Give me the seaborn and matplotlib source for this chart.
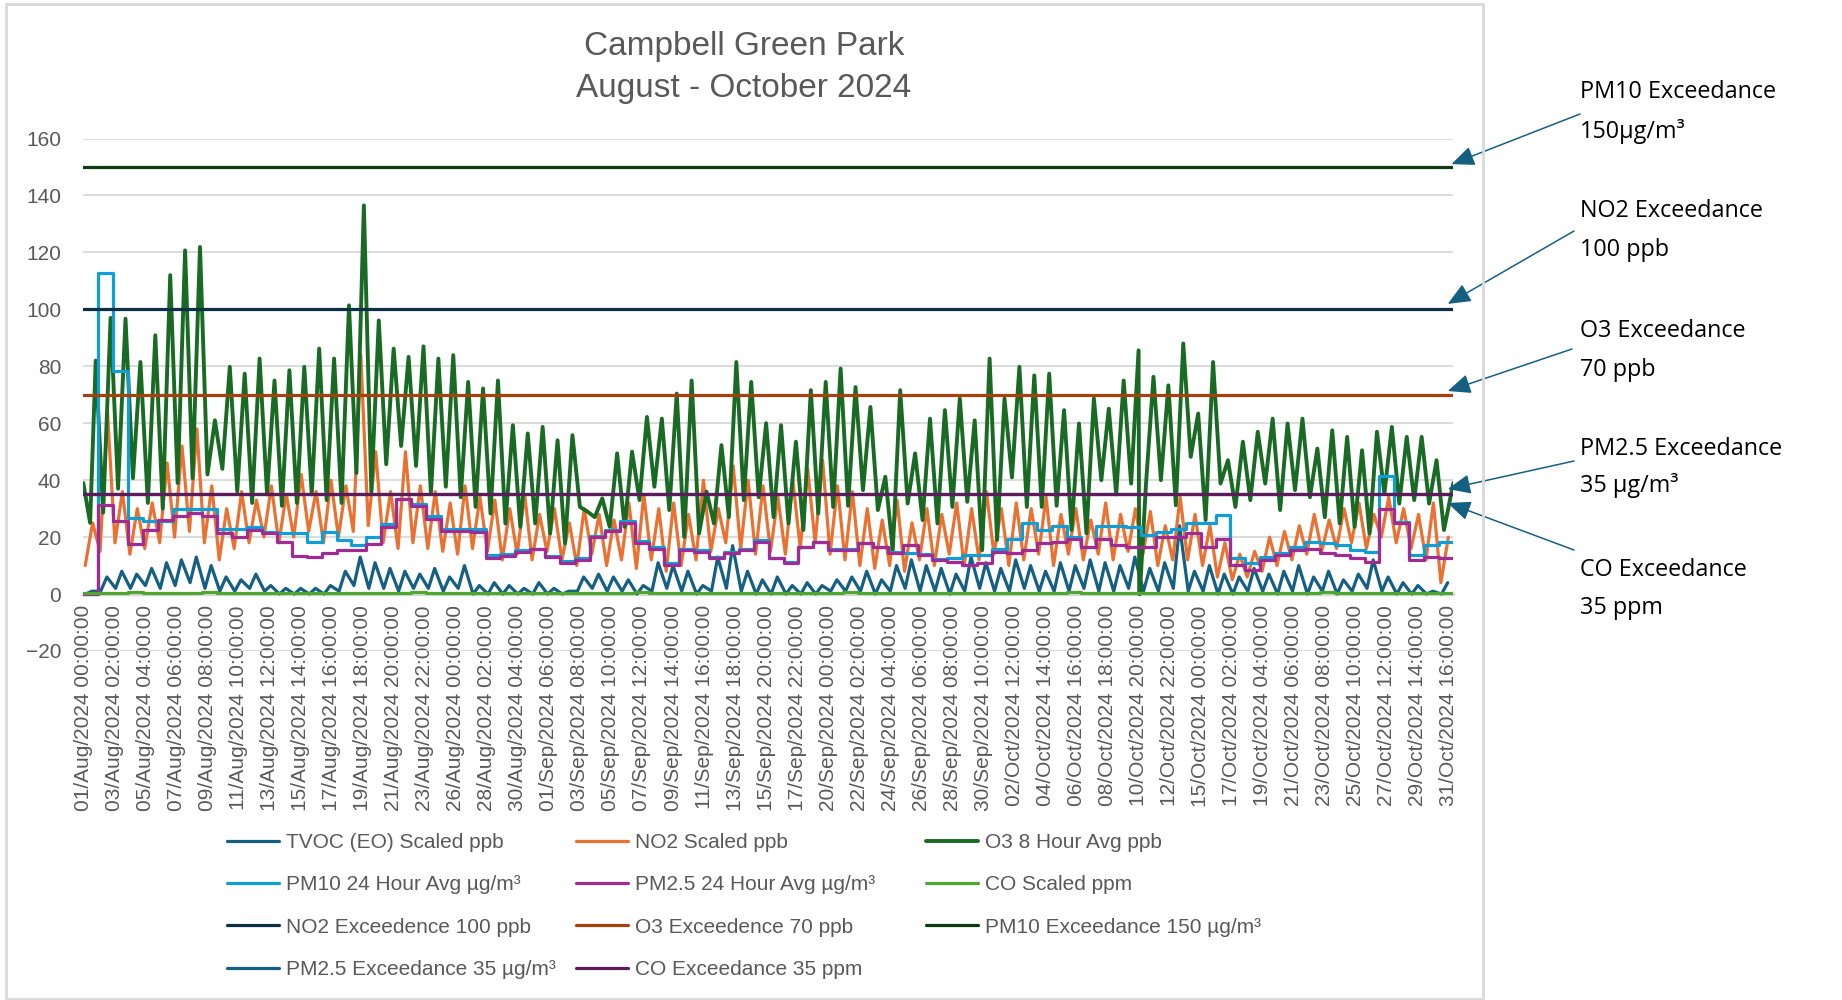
import matplotlib.pyplot as plt
import matplotlib.patches as patches
import pandas as pd
import seaborn as sns

# ---- values (hourly data, 01/Aug - 31/Oct 2024) ----
start = pd.Timestamp("2024-08-01 00:00:00")
n_days = 92
last_hour = n_days * 24 - 1

# O3 8 hour avg: the daily peak (evening) and the trough that follows it
o3_peaks = [
    82, 97, 96.7, 81.5, 90.9, 112, 120.7, 121.9, 61, 79.8,
    77.4, 82.7, 75, 78.6, 79.8, 86.2, 82.7, 101.4, 136.5, 96.1,
    86.2, 83.3, 87, 82.7, 83.9, 74.5, 72.2, 75, 59.3, 56.4,
    58.7, 54, 55.8, 29, 33.6, 49.4, 50, 62.2, 61.6, 70.4,
    75, 36, 52.3, 81.5, 74.5, 60, 59.3, 53.5, 71.6, 74.5,
    79.2, 72.7, 65.7, 41.2, 71.6, 49.4, 61.6, 64.6, 68.7, 61,
    82.7, 68.7, 79.8, 76.8, 77.4, 64.6, 59.9, 68.7, 65.1, 75,
    85.6, 76.3, 73.3, 88, 63.4, 81.5, 47, 53.5, 57, 61.6,
    59.9, 61.6, 51.1, 57.5, 55.2, 50.5, 57, 58.7, 55.2, 55.2,
    47,
]
o3_troughs = [
    28.6, 37, 40.7, 32, 30, 39, 40.7, 42, 44, 36,
    32, 35, 31, 32, 35, 33, 32, 42.5, 36, 45.6,
    52, 45, 35.3, 37.7, 34, 30.6, 28.3, 24.8, 23.6, 24.8,
    21.3, 17.8, 30.6, 27, 23.6, 23.6, 33, 37.7, 29.5, 20.1,
    21.3, 24.8, 27, 33, 34, 27, 24.8, 22.5, 28.3, 30.6,
    31, 36.5, 29.5, 15.4, 31.8, 26, 24.8, 30.6, 32.4, 15.4,
    19, 41, 30.6, 30.6, 31, 22.5, 21.3, 40, 35, 38.8,
    38.8, 40, 31.2, 48.2, 26, 38.8, 30.6, 33, 38.8, 29.5,
    36.5, 34, 27, 24.8, 23.6, 21.3, 35.3, 31.8, 33, 31.8,
    22.5,
]
o3_first = [39, 25]
o3_last = 39
o3_dropout_day = 70  # reading falls to 0 right after the 10/Oct peak

# NO2 scaled: daily high and low
no2_high = [
    25, 64, 36, 30, 32, 46, 52, 58, 38, 30,
    36, 33, 38, 35, 42, 36, 40, 38, 84, 50,
    36, 50, 38, 36, 32, 38, 34, 33, 30, 35,
    28, 30, 25, 30, 28, 26, 32, 35, 30, 32,
    28, 40, 30, 45, 40, 38, 34, 40, 44, 47,
    38, 36, 30, 26, 33, 25, 30, 28, 32, 30,
    36, 30, 32, 30, 34, 28, 30, 26, 32, 28,
    30, 29, 24, 34, 28, 24, 18, 14, 15, 20,
    22, 24, 28, 26, 30, 32, 28, 34, 30, 28,
    32, 20,
]
no2_low = [
    10, 15, 18, 14, 16, 18, 20, 22, 18, 12,
    16, 18, 20, 18, 20, 22, 18, 20, 22, 24,
    18, 16, 18, 16, 15, 14, 16, 15, 12, 14,
    12, 15, 12, 10, 14, 10, 12, 9, 12, 8,
    10, 12, 15, 18, 16, 14, 15, 14, 16, 18,
    14, 12, 10, 9, 10, 8, 12, 10, 14, 10,
    12, 14, 10, 12, 14, 10, 14, 12, 14, 12,
    15, 14, 10, 12, 12, 10, 6, 5, 6, 8,
    10, 12, 14, 15, 16, 18, 16, 20, 18, 16,
    12, 4,
]

# TVOC (EO) scaled: daily high and low
tvoc_high = [
    1, 6, 8, 7, 9, 11, 12, 13, 10, 6,
    5, 7, 3, 2, 2, 2, 3, 8, 13, 11,
    9, 8, 7, 9, 6, 10, 3, 4, 3, 2,
    4, 2, 1, 6, 7, 6, 5, 3, 11, 10,
    8, 3, 13, 17, 8, 5, 6, 3, 4, 3,
    5, 6, 8, 5, 10, 12, 10, 9, 7, 13,
    11, 9, 12, 10, 8, 11, 10, 12, 11, 10,
    13, 9, 11, 24, 8, 10, 7, 6, 9, 7,
    8, 10, 6, 8, 5, 7, 12, 6, 4, 3,
    1, 4,
]
tvoc_low = [
    0, 1, 2, 2, 3, 2, 3, 4, 2, 1,
    1, 2, 1, 0, 0, 0, 0, 1, 3, 2,
    2, 1, 2, 2, 1, 2, 0, 0, 0, 0,
    0, 0, 0, 1, 2, 1, 1, 0, 1, 2,
    1, 0, 1, 2, 1, 0, 0, 0, 0, 0,
    1, 1, 1, 0, 1, 2, 1, 1, 0, 1,
    2, 1, 1, 2, 1, 1, 1, 2, 1, 1,
    2, 1, 1, 2, 1, 1, 0, 0, 1, 1,
    0, 1, 0, 1, 0, 1, 2, 1, 0, 0,
    0, 0,
]

# 24 hour averages, one value per day
pm10_daily = [
    0, 112.6, 78.5, 26.8, 25.6, 25.6, 29.8, 30, 29.8, 22.8,
    22.8, 23.5, 21.9, 21.3, 21.3, 18.4, 21.9, 19, 17.2, 20.1,
    24.6, 33.4, 31.6, 27.4, 22.7, 22.7, 22.7, 13.7, 14, 15.4,
    16, 13.5, 11.5, 12.5, 20.5, 22.5, 25.5, 18.5, 16.5, 10.8,
    16, 15.4, 13, 14.8, 16, 19, 12.5, 11.3, 16.6, 18.4,
    15.8, 15.8, 17.8, 16.6, 14.6, 14.5, 13.9, 12.4, 12.6, 13.7,
    13.7, 16, 19.5, 24.8, 22.5, 23.9, 20.1, 16.6, 23.9, 23.9,
    23.6, 20.7, 21.9, 23, 24.8, 24.8, 27.7, 12.5, 10.8, 13,
    14.3, 16.6, 18.4, 17.8, 17.2, 15.4, 14.9, 41.6, 25.4, 13.7,
    17.2, 18.4,
]
pm25_daily = [
    0, 31.3, 25.6, 17.7, 22.5, 26.1, 27.4, 28.6, 27.4, 21.4,
    20.1, 22.5, 21.4, 18.3, 13.5, 13, 14.5, 15.5, 15.5, 17.7,
    23.5, 33.4, 31, 26.5, 22.3, 22.3, 21.8, 12.5, 13.3, 14.9,
    15.7, 13, 11, 12, 20, 22, 24.8, 17.8, 16, 10.2,
    15.4, 14.9, 12.5, 14.3, 15.4, 18.4, 12.5, 10.8, 16.6, 18.4,
    15.4, 15.4, 17.8, 16.6, 14.3, 17.2, 13.7, 12, 11.3, 10.2,
    10.8, 14.9, 14.3, 15.4, 17.8, 18.4, 19.5, 16.6, 19.5, 17.2,
    16.6, 16.6, 20.1, 20.1, 21.3, 16.6, 19.2, 10.2, 8.4, 12,
    13.7, 15.4, 15.7, 14.3, 13.7, 12.5, 11.3, 30, 24.8, 12,
    13, 12.5,
]

# CO scaled: sits just above zero all period
co_daily = [
    0.5, 0.5, 0.5, 0.6, 0.5, 0.5, 0.5, 0.5, 0.6, 0.5,
    0.5, 0.5, 0.5, 0.5, 0.5, 0.4, 0.5, 0.5, 0.5, 0.5,
    0.5, 0.5, 0.6, 0.5, 0.5, 0.5, 0.5, 0.5, 0.5, 0.5,
    0.4, 0.5, 0.5, 0.5, 0.5, 0.5, 0.5, 0.6, 0.5, 0.5,
    0.5, 0.5, 0.5, 0.5, 0.5, 0.5, 0.5, 0.5, 0.5, 0.5,
    0.5, 0.6, 0.5, 0.5, 0.5, 0.5, 0.5, 0.5, 0.4, 0.5,
    0.5, 0.5, 0.5, 0.5, 0.5, 0.5, 0.6, 0.5, 0.5, 0.5,
    0.5, 0.5, 0.5, 0.5, 0.5, 0.5, 0.5, 0.5, 0.5, 0.5,
    0.5, 0.5, 0.5, 0.6, 0.5, 0.5, 0.5, 0.5, 0.5, 0.5,
    0.5, 0.5,
]

# exceedance thresholds (drawn as flat series)
exceed_labels = [
    "NO2 Exceedence 100 ppb",
    "O3 Exceedence 70 ppb",
    "PM10 Exceedance 150 µg/m³",
    "PM2.5 Exceedance 35 µg/m³",
    "CO Exceedance 35 ppm",
]
exceed_values = [100, 70, 150, 35, 35]
exceed_colors = ["#0B2F45", "#A5410D", "#0E3A12", "#145F84", "#5E1A5A"]

# callouts on the right
callout_text = [
    ("PM10 Exceedance", "150µg/m³"),
    ("NO2 Exceedance", "100 ppb"),
    ("O3 Exceedance", "70 ppb"),
    ("PM2.5 Exceedance", "35 µg/m³"),
    ("CO Exceedance", "35 ppm"),
]


def o3_series():
    hours = [0, 11]
    vals = list(o3_first)
    for k, (peak, trough) in enumerate(zip(o3_peaks, o3_troughs)):
        hours.append(24 * k + 20)
        vals.append(peak)
        if k == o3_dropout_day:
            hours += [24 * k + 21, 24 * k + 22]
            vals += [0, 0]
        hours.append(24 * k + 32)
        vals.append(trough)
    hours.append(last_hour)
    vals.append(o3_last)
    return hours, vals


def day_pairs(low, high, low_hour, high_hour):
    hours, vals = [], []
    for d, (lo, hi) in enumerate(zip(low, high)):
        hours += [24 * d + low_hour, 24 * d + high_hour]
        vals += [lo, hi]
    return hours, vals


def daily_steps(values):
    hours = [24 * d for d in range(len(values))] + [last_hour]
    return hours, list(values) + [values[-1]]


W, H = 1842, 1000
sns.set_theme(style="white")
plt.rcParams["font.family"] = ["Liberation Sans", "DejaVu Sans"]

fig = plt.figure(figsize=(W / 100, H / 100), dpi=100)
ax = fig.add_axes([83.3 / W, 1 - 651 / H, (1453.3 - 83.3) / W, (651 - 138.5) / H])

lw = 2.3
h, v = day_pairs(tvoc_low, tvoc_high, 4, 14)
sns.lineplot(x=h, y=v, ax=ax, color="#156082", linewidth=lw, label="TVOC (EO) Scaled ppb")
h, v = day_pairs(no2_low, no2_high, 3, 15)
sns.lineplot(x=h, y=v, ax=ax, color="#E97132", linewidth=lw, label="NO2 Scaled ppb")
h, v = o3_series()
sns.lineplot(x=h, y=v, ax=ax, color="#196B24", linewidth=2.8, label="O3 8 Hour Avg ppb")
h, v = daily_steps(pm10_daily)
sns.lineplot(x=h, y=v, ax=ax, color="#0F9ED5", linewidth=lw, drawstyle="steps-post",
             label="PM10 24 Hour Avg µg/m³")
h, v = daily_steps(pm25_daily)
sns.lineplot(x=h, y=v, ax=ax, color="#A02B93", linewidth=lw, drawstyle="steps-post",
             label="PM2.5 24 Hour Avg µg/m³")
h, v = daily_steps(co_daily)
sns.lineplot(x=h, y=v, ax=ax, color="#4EA72E", linewidth=lw, drawstyle="steps-post",
             label="CO Scaled ppm")
for lab, val, col in zip(exceed_labels, exceed_values, exceed_colors):
    sns.lineplot(x=[0, last_hour], y=[val, val], ax=ax, color=col, linewidth=2.3, label=lab)

handles, labels = ax.get_legend_handles_labels()
if ax.get_legend() is not None:
    ax.get_legend().remove()

# axes styling like the Excel chart
ax.set_xlim(0, last_hour)
ax.set_ylim(-20, 160)
ax.set_yticks(range(-20, 161, 20))
tick_hours = list(range(0, last_hour + 1, 50))
tick_labels = [(start + pd.Timedelta(hours=t)).strftime("%d/%b/%Y %H:%M:%S") for t in tick_hours]
ax.set_xticks(tick_hours)
ax.set_xticklabels(tick_labels)
ax.grid(axis="y", color="#D9D9D9", linewidth=1.3)
ax.set_axisbelow(True)
for side in ["top", "right", "left"]:
    ax.spines[side].set_visible(False)
ax.spines["bottom"].set_position(("data", 0))
ax.spines["bottom"].set_color("#D9D9D9")
ax.spines["bottom"].set_linewidth(2.5)
ax.spines["bottom"].set_zorder(0.5)
ax.tick_params(axis="both", length=0, labelsize=15, labelcolor="#595959")
ax.tick_params(axis="x", pad=8, labelrotation=90)
ax.tick_params(axis="y", pad=16)
ax.set_xlabel("")
ax.set_ylabel("")
ax.patch.set_alpha(0)

# title
fig.text(744 / W, 1 - 46.5 / H, "Campbell Green Park", ha="center", va="center",
         fontsize=24, color="#595959")
fig.text(744 / W, 1 - 88.5 / H, "August - October 2024", ha="center", va="center",
         fontsize=24, color="#595959")

# legend laid out row by row in three columns
leg_cols = [[0, 3, 6, 9], [1, 4, 7, 10], [2, 5, 8]]
leg_x = [227, 576, 926]
for col, x in zip(leg_cols, leg_x):
    fig.legend([handles[i] for i in col], [labels[i] for i in col], loc="upper left",
               bbox_to_anchor=(x / W, 1 - 833 / H), frameon=False, fontsize=15,
               handlelength=2.5, handletextpad=0.35, labelspacing=1.12,
               borderpad=0, borderaxespad=0, labelcolor="#595959")

# callouts with arrows pointing at the threshold lines
text_y = [(92, 131), (211, 250), (331, 370), (449, 486), (570, 608)]
tails = [(1580, 114), (1574, 231), (1572, 349), (1574, 461), (1574, 550)]
tips = [(2204, 151), (2198, 101.9), (2198, 71.3), (2198, 36.9), (2198, 32)]
for (l1, l2), (y1, y2), tail, tip in zip(callout_text, text_y, tails, tips):
    fig.text(1580 / W, 1 - y1 / H, l1, ha="left", va="center", fontsize=16.8,
             family=["Open Sans", "DejaVu Sans"], color="black")
    fig.text(1580 / W, 1 - y2 / H, l2, ha="left", va="center", fontsize=16.8,
             family=["Open Sans", "DejaVu Sans"], color="black")
    ax.annotate("", xy=tip, xycoords="data",
                xytext=(tail[0] / W, 1 - tail[1] / H), textcoords="figure fraction",
                arrowprops=dict(arrowstyle="-|>,head_length=0.7,head_width=0.3",
                                color="#156082", lw=1.1, shrinkA=0, shrinkB=0,
                                mutation_scale=20),
                annotation_clip=False)

# light grey chart border
fig.add_artist(patches.Rectangle((6 / W, 1 - 999 / H), (1483 - 6) / W, (999 - 4) / H,
                                 transform=fig.transFigure, fill=False,
                                 edgecolor="#D9D9D9", linewidth=2))

fig.savefig("out.png", dpi=100, facecolor="white")
